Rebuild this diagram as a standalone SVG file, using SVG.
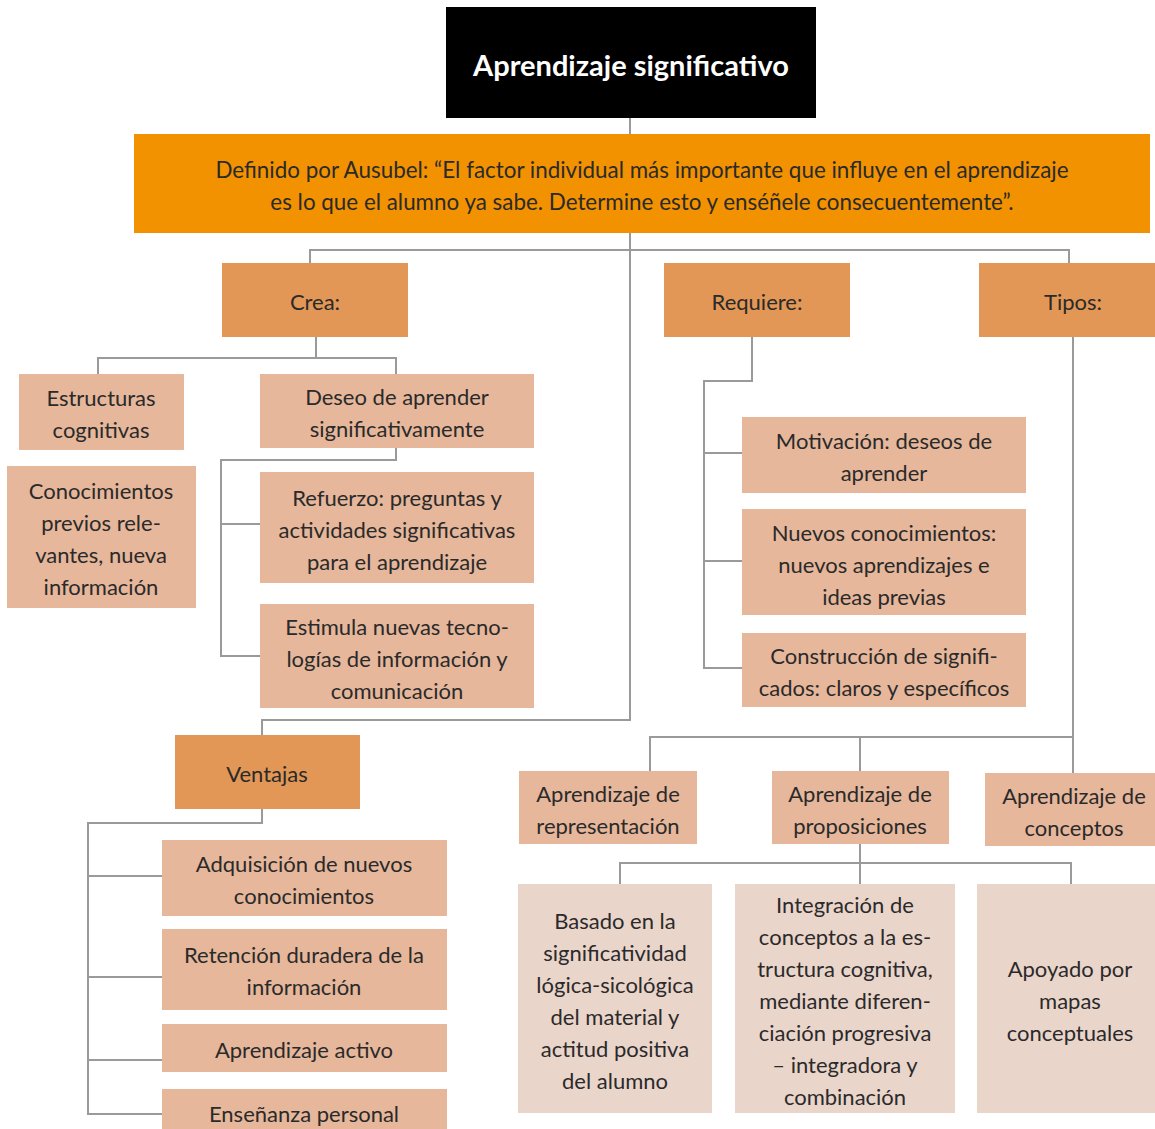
<svg xmlns="http://www.w3.org/2000/svg" width="1155" height="1129" viewBox="0 0 1155 1129">
<style>
.t{font-family:Lato,"Open Sans","Liberation Sans",sans-serif;font-size:22px;fill:#2a2a2a;text-anchor:middle}
.d{font-size:22.4px}
.title{font-family:Lato,"Open Sans","Liberation Sans",sans-serif;font-size:29px;font-weight:bold;fill:#ffffff;text-anchor:middle}
.k{fill:#000000}
.o{fill:#F39200}
.m{fill:#E29756}
.s{fill:#E6B79B}
.p{fill:#EAD5CB}
.c{fill:none;stroke:#9a9a9a;stroke-width:2}
</style>
<rect width="1155" height="1129" fill="#ffffff"/>
<g id="connectors">
<path class="c" d="M630 118V134"/>
<path class="c" d="M630 233V720H262V735"/>
<path class="c" d="M310 263V250H1069V263"/>
<path class="c" d="M316 337V358"/>
<path class="c" d="M98 374V358H396V374"/>
<path class="c" d="M396 448V460H221V656H260"/>
<path class="c" d="M221 524H260"/>
<path class="c" d="M752 337V381H704V668H742"/>
<path class="c" d="M704 453H742"/>
<path class="c" d="M704 561H742"/>
<path class="c" d="M1073 337V737"/>
<path class="c" d="M650 771V737H1073V773"/>
<path class="c" d="M860 737V771"/>
<path class="c" d="M860 844V884"/>
<path class="c" d="M620 884V863H1071V884"/>
<path class="c" d="M262 809V823H88V1114H162"/>
<path class="c" d="M88 876H162"/>
<path class="c" d="M88 977H162"/>
<path class="c" d="M88 1060H162"/>
</g>
<g id="n-title">
<rect class="k" x="446" y="7" width="370" height="111"/>
<text class="title" x="631" y="76">Aprendizaje significativo</text>
</g>
<g id="n-def">
<rect class="o" x="134" y="134" width="1016" height="99"/>
<text class="t d" x="642" y="178">Definido por Ausubel: “El factor individual más importante que influye en el aprendizaje</text>
<text class="t d" x="642" y="210">es lo que el alumno ya sabe. Determine esto y enséñele consecuentemente”.</text>
</g>
<g id="n-crea">
<rect class="m" x="222" y="263" width="186" height="74"/>
<text class="t" x="315" y="310">Crea:</text>
</g>
<g id="n-requiere">
<rect class="m" x="664" y="263" width="186" height="74"/>
<text class="t" x="757" y="310">Requiere:</text>
</g>
<g id="n-tipos">
<rect class="m" x="979" y="263" width="176" height="74"/>
<text class="t" x="1073" y="310">Tipos:</text>
</g>
<g id="n-estructuras">
<rect class="s" x="19" y="374" width="165" height="76"/>
<text class="t" x="101" y="406">Estructuras</text>
<text class="t" x="101" y="438">cognitivas</text>
</g>
<g id="n-conocimientos">
<rect class="s" x="7" y="466" width="189" height="142"/>
<text class="t" x="101" y="499">Conocimientos</text>
<text class="t" x="101" y="531">previos rele-</text>
<text class="t" x="101" y="563">vantes, nueva</text>
<text class="t" x="101" y="595">información</text>
</g>
<g id="n-deseo">
<rect class="s" x="260" y="374" width="274" height="74"/>
<text class="t" x="397" y="405">Deseo de aprender</text>
<text class="t" x="397" y="437">significativamente</text>
</g>
<g id="n-refuerzo">
<rect class="s" x="260" y="472" width="274" height="111"/>
<text class="t" x="397" y="506">Refuerzo: preguntas y</text>
<text class="t" x="397" y="538">actividades significativas</text>
<text class="t" x="397" y="570">para el aprendizaje</text>
</g>
<g id="n-estimula">
<rect class="s" x="260" y="604" width="274" height="104"/>
<text class="t" x="397" y="635">Estimula nuevas tecno-</text>
<text class="t" x="397" y="667">logías de información y</text>
<text class="t" x="397" y="699">comunicación</text>
</g>
<g id="n-motivacion">
<rect class="s" x="742" y="417" width="284" height="76"/>
<text class="t" x="884" y="449">Motivación: deseos de</text>
<text class="t" x="884" y="481">aprender</text>
</g>
<g id="n-nuevos">
<rect class="s" x="742" y="509" width="284" height="106"/>
<text class="t" x="884" y="541">Nuevos conocimientos:</text>
<text class="t" x="884" y="573">nuevos aprendizajes e</text>
<text class="t" x="884" y="605">ideas previas</text>
</g>
<g id="n-construccion">
<rect class="s" x="742" y="633" width="284" height="74"/>
<text class="t" x="884" y="664">Construcción de signifi-</text>
<text class="t" x="884" y="696">cados: claros y específicos</text>
</g>
<g id="n-ventajas">
<rect class="m" x="175" y="735" width="185" height="74"/>
<text class="t" x="267" y="782">Ventajas</text>
</g>
<g id="n-adquisicion">
<rect class="s" x="162" y="840" width="285" height="76"/>
<text class="t" x="304" y="872">Adquisición de nuevos</text>
<text class="t" x="304" y="904">conocimientos</text>
</g>
<g id="n-retencion">
<rect class="s" x="162" y="929" width="285" height="81"/>
<text class="t" x="304" y="963">Retención duradera de la</text>
<text class="t" x="304" y="995">información</text>
</g>
<g id="n-activo">
<rect class="s" x="162" y="1024" width="285" height="48"/>
<text class="t" x="304" y="1058">Aprendizaje activo</text>
</g>
<g id="n-personal">
<rect class="s" x="162" y="1089" width="285" height="40"/>
<text class="t" x="304" y="1122">Enseñanza personal</text>
</g>
<g id="n-representacion">
<rect class="s" x="519" y="771" width="178" height="73"/>
<text class="t" x="608" y="802">Aprendizaje de</text>
<text class="t" x="608" y="834">representación</text>
</g>
<g id="n-proposiciones">
<rect class="s" x="772" y="771" width="177" height="73"/>
<text class="t" x="860" y="802">Aprendizaje de</text>
<text class="t" x="860" y="834">proposiciones</text>
</g>
<g id="n-conceptos">
<rect class="s" x="985" y="773" width="170" height="73"/>
<text class="t" x="1074" y="804">Aprendizaje de</text>
<text class="t" x="1074" y="836">conceptos</text>
</g>
<g id="n-basado">
<rect class="p" x="518" y="884" width="194" height="229"/>
<text class="t" x="615" y="929">Basado en la</text>
<text class="t" x="615" y="961">significatividad</text>
<text class="t" x="615" y="993">lógica-sicológica</text>
<text class="t" x="615" y="1025">del material y</text>
<text class="t" x="615" y="1057">actitud positiva</text>
<text class="t" x="615" y="1089">del alumno</text>
</g>
<g id="n-integracion">
<rect class="p" x="735" y="884" width="220" height="229"/>
<text class="t" x="845" y="913">Integración de</text>
<text class="t" x="845" y="945">conceptos a la es-</text>
<text class="t" x="845" y="977">tructura cognitiva,</text>
<text class="t" x="845" y="1009">mediante diferen-</text>
<text class="t" x="845" y="1041">ciación progresiva</text>
<text class="t" x="845" y="1073">– integradora y</text>
<text class="t" x="845" y="1105">combinación</text>
</g>
<g id="n-apoyado">
<rect class="p" x="977" y="884" width="178" height="229"/>
<text class="t" x="1070" y="977">Apoyado por</text>
<text class="t" x="1070" y="1009">mapas</text>
<text class="t" x="1070" y="1041">conceptuales</text>
</g>
</svg>
